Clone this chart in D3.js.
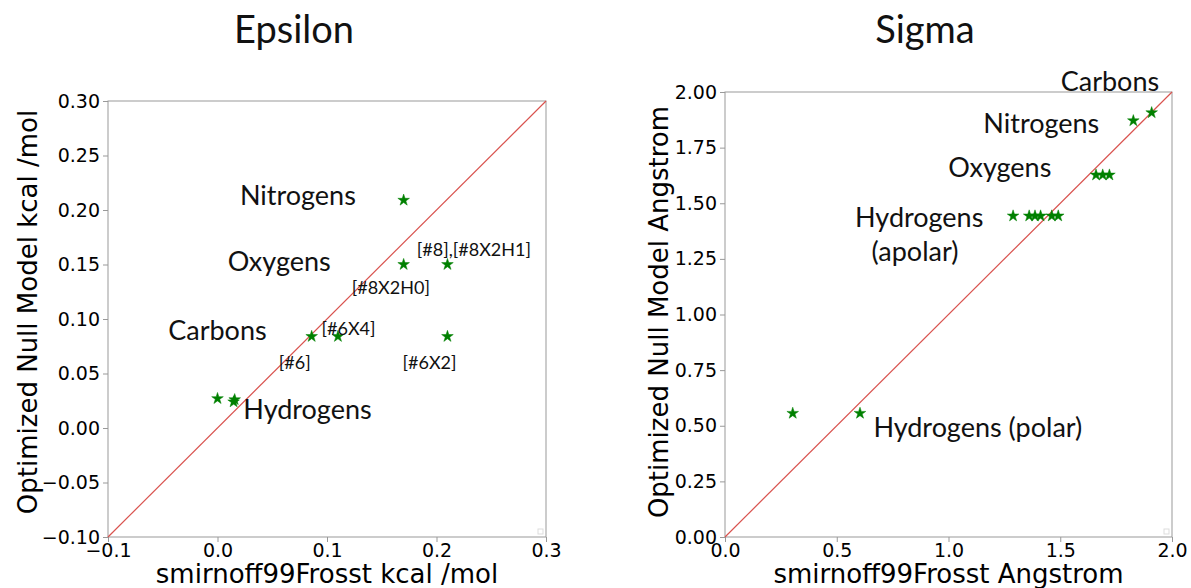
<!DOCTYPE html>
<html lang="en">
<head>
    <meta charset="utf-8">
    <title>Epsilon / Sigma</title>
    <script src="https://d3js.org/d3.v7.min.js"></script>
    <style>
        body { margin: 0; background: #fff; }
        .tick text { font-family: "DejaVu Sans", sans-serif; font-size: 19px; fill: #000; }
        .tick line { stroke: #999; }
        .domain { stroke: none; }
        .lab { font-family: "DejaVu Sans", sans-serif; font-size: 26px; }
        .note { font-family: Lato, "Open Sans", sans-serif; fill: #111; }
    </style>
</head>
<body>

<script>
    // Epsilon panel (kcal/mol)
    const epsX = [0.170, 0.170, 0.210, 0.086, 0.110, 0.210, 0.000, 0.0147, 0.0157];
    const epsY = [0.209, 0.150, 0.150, 0.084, 0.084, 0.084, 0.027, 0.024, 0.026];
    const epsTicksX = [-0.1, 0.0, 0.1, 0.2, 0.3];
    const epsTicksY = [-0.10, -0.05, 0.00, 0.05, 0.10, 0.15, 0.20, 0.25, 0.30];
    const epsNotes = [
        {t: "Nitrogens", x: 0.0205, y: 0.2046, big: true},
        {t: "Oxygens", x: 0.0093, y: 0.144, big: true},
        {t: "Carbons", x: -0.045, y: 0.0807, big: true},
        {t: "Hydrogens", x: 0.0236, y: 0.008, big: true},
        {t: "[#8],[#8X2H1]", x: 0.182, y: 0.158},
        {t: "[#8X2H0]", x: 0.1226, y: 0.123},
        {t: "[#6X4]", x: 0.095, y: 0.0853},
        {t: "[#6]", x: 0.056, y: 0.0538},
        {t: "[#6X2]", x: 0.169, y: 0.0538}
    ];

    // Sigma panel (Angstrom)
    const sigX = [0.303, 0.604, 1.289, 1.361, 1.387, 1.412, 1.462, 1.491, 1.660, 1.690, 1.720, 1.827, 1.909];
    const sigY = [0.556, 0.556, 1.443, 1.443, 1.443, 1.443, 1.443, 1.443, 1.627, 1.627, 1.627, 1.871, 1.907];
    const sigTicksX = [0.0, 0.5, 1.0, 1.5, 2.0];
    const sigTicksY = [0.00, 0.25, 0.50, 0.75, 1.00, 1.25, 1.50, 1.75, 2.00];
    const sigNotes = [
        {t: "Carbons", x: 1.502, y: 2.006, big: true},
        {t: "Nitrogens", x: 1.156, y: 1.814, big: true},
        {t: "Oxygens", x: 0.999, y: 1.617, big: true},
        {t: "Hydrogens", x: 0.582, y: 1.395, big: true},
        {t: "(apolar)", x: 0.656, y: 1.240, big: true},
        {t: "Hydrogens (polar)", x: 0.664, y: 0.451, big: true}
    ];

    const svg = d3.select("body").append("svg").attr("width", 1191).attr("height", 588);

    function panel(o) {
        const x = d3.scaleLinear().domain(o.dom).range([o.left, o.right]);
        const y = d3.scaleLinear().domain(o.dom).range([o.bottom, o.top]);
        const g = svg.append("g");

        g.append("g").attr("transform", `translate(0,${o.bottom})`)
            .call(d3.axisBottom(x).tickValues(o.tx).tickFormat(d3.format(o.fx)).tickSize(5).tickPadding(2));
        g.append("g").attr("transform", `translate(${o.left},0)`)
            .call(d3.axisLeft(y).tickValues(o.ty).tickFormat(d3.format(o.fy)).tickSize(5).tickPadding(3));

        g.append("rect")
            .attr("x", o.left).attr("y", o.top)
            .attr("width", o.right - o.left).attr("height", o.bottom - o.top)
            .attr("fill", "none").attr("stroke", "#999").attr("stroke-width", 1);

        // small legend remnant in the corner
        g.append("rect")
            .attr("x", o.right - 8).attr("y", o.bottom - 8)
            .attr("width", 5).attr("height", 5)
            .attr("fill", "none").attr("stroke", "#ddd");

        g.append("line")
            .attr("x1", x(o.dom[0])).attr("y1", y(o.dom[0]))
            .attr("x2", x(o.dom[1])).attr("y2", y(o.dom[1]))
            .attr("stroke", "#d9534f").attr("stroke-width", 1.2);

        g.selectAll("path.pt")
            .data(o.xs).enter()
            .append("path")
            .attr("class", "pt")
            .attr("d", d3.symbol().type(d3.symbolStar).size(42))
            .attr("transform", (d, i) => `translate(${x(d)},${y(o.ys[i])})`)
            .attr("fill", "green").attr("stroke", "green").attr("stroke-width", 0.5);

        g.selectAll("text.note")
            .data(o.notes).enter()
            .append("text")
            .attr("class", "note")
            .attr("x", d => x(d.x)).attr("y", d => y(d.y))
            .style("font-size", d => d.big ? "27px" : "18px")
            .text(d => d.t);

        g.append("text").attr("class", "lab")
            .attr("x", (o.left + o.right) / 2).attr("y", 583)
            .attr("text-anchor", "middle").text(o.xl);
        g.append("text").attr("class", "lab")
            .attr("transform", `translate(${o.ylx},312) rotate(-90)`)
            .attr("text-anchor", "middle").text(o.yl);

        g.append("text").attr("class", "note")
            .attr("x", o.titleX).attr("y", 43)
            .attr("text-anchor", "middle")
            .style("font-size", "38px")
            .text(o.title);
    }

    panel({dom: [-0.1, 0.3], left: 108, right: 546, top: 101, bottom: 537,
        xs: epsX, ys: epsY, tx: epsTicksX, ty: epsTicksY, fx: ".1f", fy: ".2f",
        notes: epsNotes, xl: "smirnoff99Frosst kcal /mol", yl: "Optimized Null Model kcal /mol",
        ylx: 37, title: "Epsilon", titleX: 294});

    panel({dom: [0, 2], left: 725, right: 1172, top: 92, bottom: 537,
        xs: sigX, ys: sigY, tx: sigTicksX, ty: sigTicksY, fx: ".1f", fy: ".2f",
        notes: sigNotes, xl: "smirnoff99Frosst Angstrom", yl: "Optimized Null Model Angstrom",
        ylx: 668, title: "Sigma", titleX: 925});
</script>

</body>
</html>
